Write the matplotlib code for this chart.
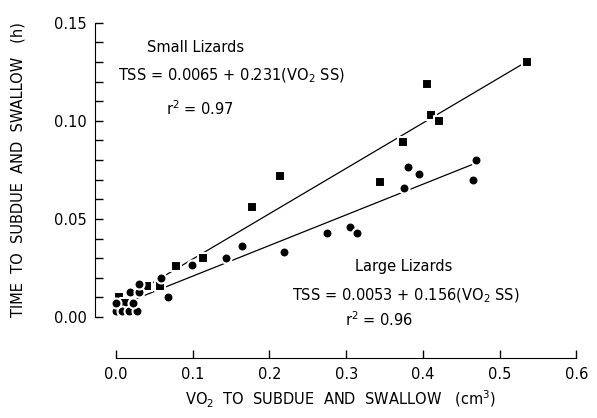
import numpy as np
import matplotlib.pyplot as plt

# small lizards (squares)
small_x = [0.004, 0.012, 0.040, 0.057, 0.078, 0.113, 0.177, 0.214, 0.344,
           0.374, 0.405, 0.411, 0.421, 0.536]
small_y = [0.010, 0.007, 0.016, 0.016, 0.026, 0.030, 0.056, 0.072, 0.069,
           0.089, 0.119, 0.103, 0.100, 0.130]

# large lizards (circles)
large_x = [0.000, 0.008, 0.017, 0.027, 0.000, 0.022, 0.018, 0.030, 0.030,
           0.059, 0.068, 0.099, 0.143, 0.164, 0.219, 0.275, 0.305, 0.314,
           0.375, 0.381, 0.395, 0.465, 0.469]
large_y = [0.003, 0.003, 0.003, 0.003, 0.007, 0.007, 0.013, 0.013, 0.017,
           0.020, 0.010, 0.0265, 0.030, 0.036, 0.033, 0.043, 0.046, 0.043,
           0.066, 0.0765, 0.073, 0.070, 0.080]

# regression lines
small_fit = (0.0065, 0.231)
large_fit = (0.0053, 0.156)
small_range = (0.01, 0.536)
large_range = (0.012, 0.469)

xticks = [0.0, 0.1, 0.2, 0.3, 0.4, 0.5, 0.6]
yticks = [0.00, 0.05, 0.10, 0.15]

fig = plt.figure(figsize=(5.97, 4.18), dpi=100)
ax = fig.add_axes([0.156, 0.124, 0.822, 0.831])

xs = np.array(small_range)
ax.plot(xs, small_fit[0] + small_fit[1] * xs, color='black', lw=0.9, zorder=1)
xl = np.array(large_range)
ax.plot(xl, large_fit[0] + large_fit[1] * xl, color='black', lw=0.9, zorder=1)

ax.scatter(small_x, small_y, marker='s', s=48, c='black',
           edgecolors='white', linewidths=1.5, zorder=3)
ax.scatter(large_x, large_y, marker='o', s=52, c='black',
           edgecolors='white', linewidths=1.5, zorder=3)

ax.set_xlim(-0.03, 0.61)
ax.set_ylim(-0.025, 0.152)

for s in ['top', 'right']:
    ax.spines[s].set_visible(False)
ax.spines['left'].set_position(('data', -0.027))
ax.spines['bottom'].set_position(('data', -0.021))
ax.spines['left'].set_bounds(0, 0.15)
ax.spines['bottom'].set_bounds(0, 0.6)

ax.set_xticks(xticks)
ax.set_xticklabels(['%.1f' % v for v in xticks])
ax.set_yticks(yticks)
ax.set_yticklabels(['%.2f' % v for v in yticks])
ax.set_yticks(np.arange(0, 0.151, 0.01), minor=True)
ax.tick_params(direction='in', length=6, width=1, labelsize=10.5, pad=6)
ax.tick_params(axis='y', which='minor', direction='in', length=6, width=1)

fs = 10.5
ax.text(0.040, 0.135, 'Small Lizards', fontsize=fs)
ax.text(0.003, 0.1205, 'TSS = 0.0065 + 0.231(VO$_2$ SS)', fontsize=fs)
ax.text(0.065, 0.103, 'r$^2$ = 0.97', fontsize=fs)

ax.text(0.311, 0.0235, 'Large Lizards', fontsize=fs)
ax.text(0.229, 0.0085, 'TSS = 0.0053 + 0.156(VO$_2$ SS)', fontsize=fs)
ax.text(0.298, -0.0045, 'r$^2$ = 0.96', fontsize=fs)

fig.text(0.57, 0.03, 'VO$_2$  TO  SUBDUE  AND  SWALLOW   (cm$^3$)', ha='center', fontsize=fs)
fig.text(0.03, 0.595, 'TIME  TO  SUBDUE  AND  SWALLOW   (h)', rotation=90,
         va='center', ha='center', fontsize=fs)

fig.savefig('out.png', dpi=100)
